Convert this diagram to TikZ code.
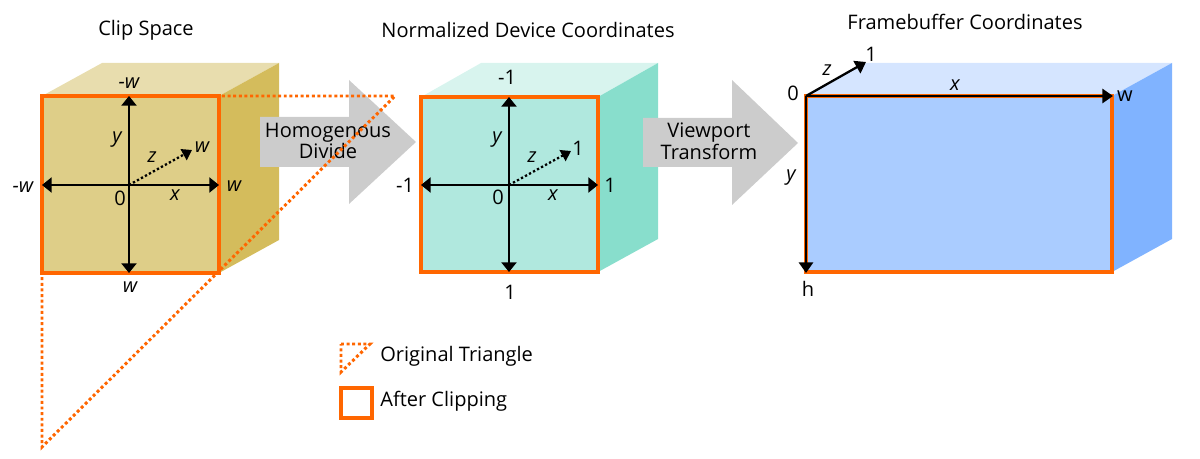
\documentclass[tikz,border=0pt]{standalone}
\usepackage{fontspec}
\setmainfont{Open Sans}
\usetikzlibrary{arrows.meta}

\definecolor{clipfront}{HTML}{DECE88}
\definecolor{cliptop}{HTML}{E8DDAE}
\definecolor{clipside}{HTML}{D4BC5C}
\definecolor{ndcfront}{HTML}{B0E8DE}
\definecolor{ndctop}{HTML}{D8F4EE}
\definecolor{ndcside}{HTML}{88DECC}
\definecolor{fbfront}{HTML}{AACCFF}
\definecolor{fbtop}{HTML}{D5E5FF}
\definecolor{fbside}{HTML}{80B3FF}
\definecolor{cliporange}{HTML}{FF6600}
\definecolor{arrowgray}{HTML}{CCCCCC}

\tikzset{
  axis/.style={black, line width=1.7pt, {Triangle[width=8.5pt,length=5.5pt]}-{Triangle[width=8.5pt,length=5.5pt]}},
  zaxis/.style={black, line width=1.3pt, dash pattern=on 1.3pt off 1.3pt, -{Triangle[width=7pt,length=5.5pt]}},
  fbaxis/.style={black, line width=1.3pt, -{Triangle[width=8pt,length=6pt]}},
  clipped/.style={draw=cliporange, line width=1.8pt},
  origtri/.style={cliporange, line width=1.7pt, dash pattern=on 1.7pt off 1.5pt},
  lbl/.style={inner sep=0pt},
  ilbl/.style={inner sep=0pt, font=\fontsize{11.4}{11.4}\selectfont\itshape},
  title/.style={inner sep=0pt},
  blocktext/.style={align=center, inner sep=0pt},
}

\begin{document}
\begin{tikzpicture}[x=0.02cm, y=-0.02cm, font=\fontsize{11.4}{11}\selectfont]
\useasboundingbox (0,0) rectangle (1200,459);

% titles
\node[title] (tclip) at (146,30) {Clip Space};
\node[title] (tndc) at (528,30) {Normalized Device Coordinates};
\node[title] (tfb) at (965,22) {Framebuffer Coordinates};

% clip space cube
\fill[cliptop] (42,96) -- (102,63) -- (279,63) -- (219,96) -- cycle;
\fill[clipside] (219,96) -- (279,63) -- (279,240) -- (219,273) -- cycle;
\fill[clipfront] (42,96) rectangle (219,273);

% ndc cube
\fill[ndctop] (421,97) -- (481,63) -- (658,63) -- (598,97) -- cycle;
\fill[ndcside] (598,97) -- (658,63) -- (658,239) -- (598,272) -- cycle;
\fill[ndcfront] (421,97) rectangle (598,272);

% framebuffer box
\fill[fbtop] (806,96) -- (866,63) -- (1172,63) -- (1112,96) -- cycle;
\fill[fbside] (1112,96) -- (1172,63) -- (1172,239) -- (1112,272) -- cycle;
\fill[fbfront] (806,96) rectangle (1112,272);

% block arrows
\fill[arrowgray] (260,117) -- (349,117) -- (349,80) -- (416,142) -- (349,204) -- (349,167) -- (260,167) -- cycle;
\node[blocktext] (homdiv) at (328,141) {Homogenous\\Divide};
\fill[arrowgray] (643,118) -- (732,118) -- (732,80) -- (798,143) -- (732,205) -- (732,167) -- (643,167) -- cycle;
\node[blocktext] (vptrans) at (709,141) {Viewport\\Transform};

% original triangle
\coordinate (tA) at (42,96);
\coordinate (tB) at (395,96);
\coordinate (tC) at (42,447);
\draw[origtri] (tA) -- (tB) -- (tC) -- cycle;

% clipped squares
\draw[clipped] (42,96) rectangle (219,273);
\draw[clipped] (421,97) rectangle (598,272);
\draw[clipped] (806,96) rectangle (1112,272);

% clip space axes
\coordinate (cO) at (129,185);
\coordinate (cL) at (42,185);
\coordinate (cR) at (219,185);
\coordinate (cT) at (129,96);
\coordinate (cB) at (129,273);
\coordinate (cZ) at (192,150);
\draw[axis] (cL) -- (cR);
\draw[axis] (cT) -- (cB);
\draw[zaxis] (cO) -- (cZ);
\node[ilbl] (cmw1) at (129,83) {-w};
\node[ilbl] (cpw1) at (130,287) {w};
\node[ilbl] (cmw2) at (23,187) {-w};
\node[ilbl] (cpw2) at (234,186) {w};
\node[ilbl] (cpw3) at (202,147) {w};
\node[ilbl] (cy) at (117,140) {y};
\node[ilbl] (cz) at (152,157) {z};
\node[ilbl] (cx) at (175,195) {x};
\node[lbl] (c0) at (120,198) {0};

% ndc axes
\coordinate (nO) at (509,185);
\coordinate (nL) at (421,185);
\coordinate (nR) at (598,185);
\coordinate (nT) at (509,97);
\coordinate (nB) at (509,272);
\coordinate (nZ) at (571,151);
\draw[axis] (nL) -- (nR);
\draw[axis] (nT) -- (nB);
\draw[zaxis] (nO) -- (nZ);
\node[lbl] (nm1a) at (507,77) {-1};
\node[lbl] (np1a) at (510,292) {1};
\node[lbl] (nm1b) at (405,185) {-1};
\node[lbl] (np1b) at (610,185) {1};
\node[lbl] (np1c) at (578,148) {1};
\node[ilbl] (ny) at (497,140) {y};
\node[ilbl] (nz) at (532,157) {z};
\node[ilbl] (nx) at (553,195) {x};
\node[lbl] (n0) at (498,197) {0};

% framebuffer axes
\coordinate (fO) at (806,96);
\coordinate (fX) at (1113,96);
\coordinate (fY) at (806,273);
\coordinate (fZ) at (866,62);
\draw[fbaxis] (fO) -- (fX);
\draw[fbaxis] (fO) -- (fY);
\draw[fbaxis] (fO) -- (fZ);
\node[lbl] (f0) at (793,93) {0};
\node[lbl] (f1) at (871,54) {1};
\node[lbl] (fw) at (1125,96) {w};
\node[lbl] (fh) at (808,289) {h};
\node[ilbl] (fz) at (827,70) {z};
\node[ilbl] (fx) at (955,85) {x};
\node[ilbl] (fy) at (791,178) {y};

% legend
\coordinate (lA) at (341,344);
\coordinate (lB) at (370,344);
\coordinate (lC) at (341,372);
\draw[origtri] (lA) -- (lB) -- (lC) -- cycle;
\node[lbl, anchor=west] (lorig) at (380,356) {Original Triangle};
\draw[clipped] (341,388) rectangle (372,418);
\node[lbl, anchor=west] (lafter) at (380,401) {After Clipping};
\end{tikzpicture}
\end{document}
